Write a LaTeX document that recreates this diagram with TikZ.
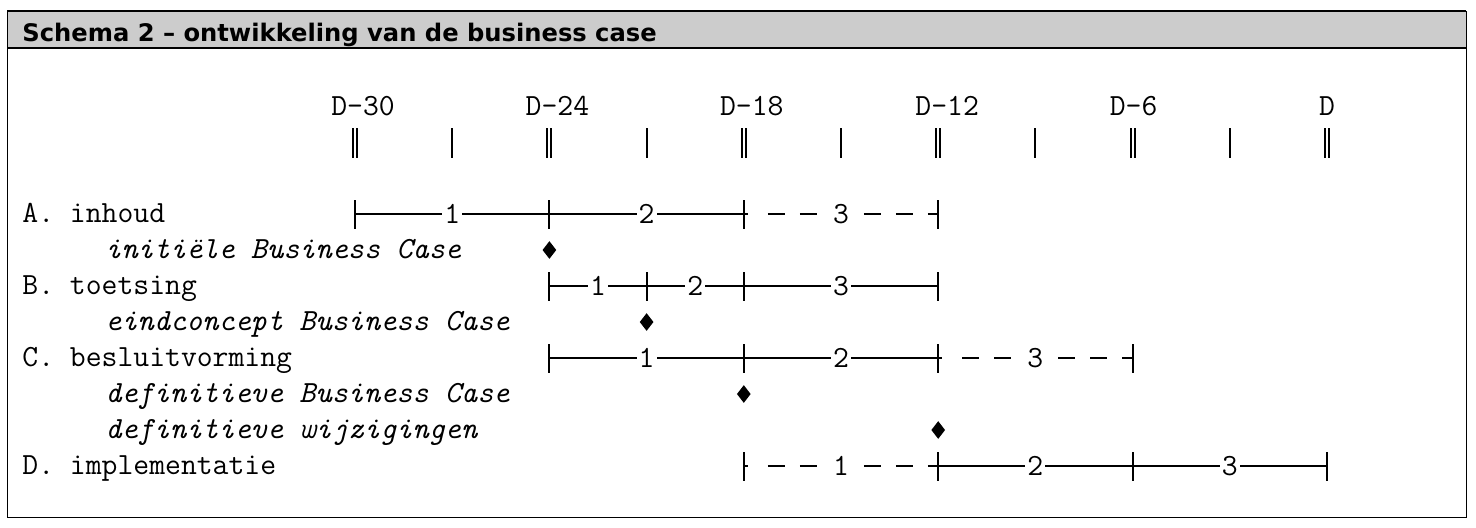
\documentclass[tikz,border=0pt]{standalone}
\usepackage{fontspec}
\setsansfont{DejaVu Sans}
\usetikzlibrary{arrows.meta, positioning, calc, shapes.geometric}

\begin{document}
\begin{tikzpicture}[
    x=0.5pt, y=-0.5pt,
    title/.style={font=\sffamily\bfseries\fontsize{12.1}{14}\selectfont, inner sep=0pt, anchor=base west},
    txt/.style={font=\ttfamily\fontsize{15.4}{18}\selectfont, inner sep=0pt, anchor=base west},
    sub/.style={txt, font=\ttfamily\itshape\fontsize{15.4}{18}\selectfont},
    tlab/.style={font=\ttfamily\fontsize{15.4}{18}\selectfont, inner sep=0pt, anchor=base},
    num/.style={font=\ttfamily\fontsize{15.4}{18}\selectfont, fill=white, inner xsep=1pt, inner ysep=0pt},
    bar/.style={line width=1pt},
    dashseg/.style={dash pattern=on 2pt off 10pt on 8.5pt off 7.5pt on 8.5pt off 7.5pt on 8.5pt off 7.5pt on 8.5pt off 7.5pt on 8.5pt off 7.5pt on 8.5pt off 10pt},
    major/.style={double, double distance=1pt, line width=1pt},
    minor/.style={line width=1pt},
    milestone/.style={diamond, fill=black, inner sep=0pt, minimum width=7pt, minimum height=9pt}
]
\useasboundingbox (0,0) rectangle (1476,527);

% frame and title bar
\fill[black!20] (7,11) rectangle (1466,48);
\draw[line width=0.5pt] (7,11) rectangle (1466,517);
\draw[line width=1pt] (7,11) -- (1466,11);
\draw[line width=1pt] (7,48) -- (1466,48);
\node[title] (ttl) at (22,41) {Schema 2 – ontwikkeling van de business case};

% time axis
\foreach \m in {0,3,...,30}
    \coordinate (d\m) at ({1327-32.4*\m},143);
\foreach \m in {0,6,...,30}
    \draw[major] (d\m) ++(0,-15) -- ++(0,30);
\foreach \m in {3,9,...,27}
    \draw[minor] (d\m) ++(0,-15) -- ++(0,30);
\foreach \m/\lab/\dx in {30/D-30/8, 24/D-24/8, 18/D-18/8, 12/D-12/9, 6/D-6/1, 0/D/0}
    \node[tlab] (l\m) at ({1327-32.4*\m+\dx},115) {\lab};

% rows
\node[txt] (rA) at (22,222) {A. inhoud};
\node[sub] (sA) at (105,258) {initiële Business Case};
\node[txt] (rB) at (22,294) {B. toetsing};
\node[sub] (sB) at (105,330) {eindconcept Business Case};
\node[txt] (rC) at (22,366) {C. besluitvorming};
\node[sub] (sC1) at (105,402) {definitieve Business Case};
\node[sub] (sC2) at (105,438) {definitieve wijzigingen};
\node[txt] (rD) at (22,474) {D. implementatie};

\foreach \r/\y in {A/214, B/286, C/358, D/466}
    \foreach \m in {0,3,...,30}
        \coordinate (\r\m) at ({1327-32.4*\m},\y);

% phases
\draw[bar] (A30) -- node[num] {1} (A24);
\draw[bar] (A24) -- node[num] {2} (A18);
\draw[bar, dashseg] (A18) -- node[num] {3} (A12);

\draw[bar] (B24) -- node[num] {1} (B21);
\draw[bar] (B21) -- node[num] {2} (B18);
\draw[bar] (B18) -- node[num] {3} (B12);

\draw[bar] (C24) -- node[num] {1} (C18);
\draw[bar] (C18) -- node[num] {2} (C12);
\draw[bar, dashseg] (C12) -- node[num] {3} (C6);

\draw[bar, dashseg] (D18) -- node[num] {1} (D12);
\draw[bar] (D12) -- node[num] {2} (D6);
\draw[bar] (D6) -- node[num] {3} (D0);

% phase boundaries
\foreach \p in {A30,A24,A18,A12,B24,B21,B18,B12,C24,C18,C12,C6,D18,D12,D6,D0}
    \draw[minor] (\p) ++(0,-14) -- ++(0,29);

% milestones
\node[milestone] (mA) at ({1327-32.4*24},250) {};
\node[milestone] (mB) at ({1327-32.4*21},322) {};
\node[milestone] (mC1) at ({1327-32.4*18},394) {};
\node[milestone] (mC2) at ({1327-32.4*12},430) {};
\end{tikzpicture}
\end{document}
